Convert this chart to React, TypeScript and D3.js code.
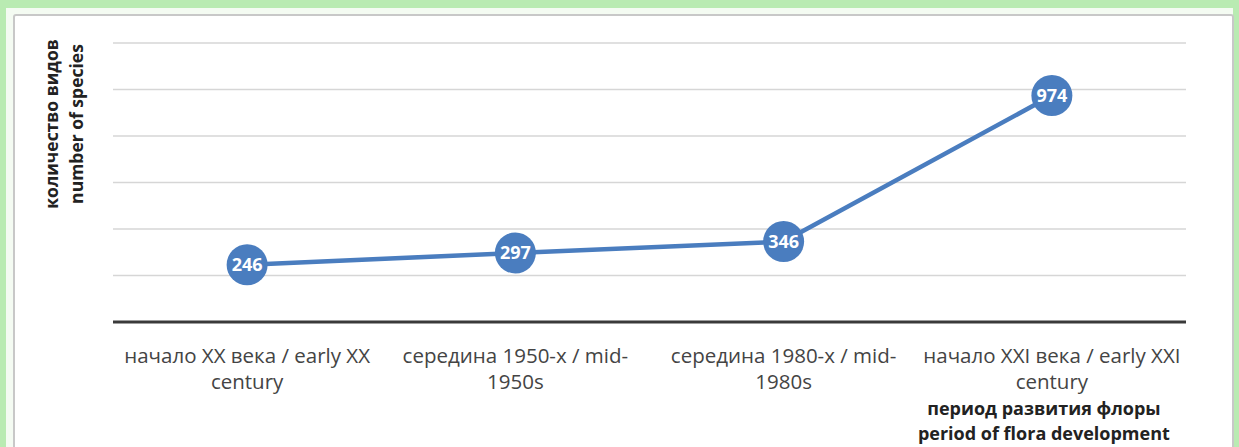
import { useEffect, useRef } from "react";
import * as d3 from "d3";

const W = 1239;
const H = 447;
const MARGIN = { top: 43, right: 53, bottom: 125, left: 113 };
const INNER_W = W - MARGIN.left - MARGIN.right;
const INNER_H = H - MARGIN.top - MARGIN.bottom;

const FONT = '"Open Sans", "Noto Sans", sans-serif';
const BLUE = "#4a7dbf";

const CATEGORIES = ["c1", "c2", "c3", "c4"];
const CATEGORY_LABELS = [
  ["начало XX века / early XX", "century"],
  ["середина 1950-х / mid-", "1950s"],
  ["середина 1980-х / mid-", "1980s"],
  ["начало XXI века / early XXI", "century"],
];
const SPECIES = [246, 297, 346, 974];
const Y_TICKS = [0, 200, 400, 600, 800, 1000, 1200];
const Y_TITLE = ["количество видов", "number of species"];
const X_TITLE = ["период развития флоры", "period of flora development"];

export default function App() {
  const svgRef = useRef<SVGSVGElement>(null);

  useEffect(() => {
    const svg = d3.select(svgRef.current);
    svg.selectAll("*").remove();

    // frame
    svg.append("rect").attr("width", W).attr("height", H).attr("fill", "#b9ebb2");
    svg
      .append("rect")
      .attr("x", 6)
      .attr("y", 8)
      .attr("width", W - 12)
      .attr("height", H)
      .attr("fill", "#f4fbf2");
    svg
      .append("rect")
      .attr("x", 14)
      .attr("y", 15)
      .attr("width", 1219)
      .attr("height", H)
      .attr("rx", 2)
      .attr("fill", "#ffffff")
      .attr("stroke", "#c8c8c8")
      .attr("stroke-width", 2);

    const chart = svg
      .append("g")
      .attr("transform", `translate(${MARGIN.left},${MARGIN.top})`);

    const x = d3.scaleBand().domain(CATEGORIES).range([0, INNER_W]);
    const y = d3.scaleLinear().domain([0, 1200]).range([INNER_H, 0]);

    // gridlines
    chart
      .append("g")
      .selectAll("line")
      .data(Y_TICKS.filter((t) => t > 0))
      .join("line")
      .attr("x1", 0)
      .attr("x2", INNER_W)
      .attr("y1", (t) => y(t))
      .attr("y2", (t) => y(t))
      .attr("stroke", "#d6d6d6")
      .attr("stroke-width", 1.5);

    // axis line
    chart
      .append("line")
      .attr("x1", 0)
      .attr("x2", INNER_W)
      .attr("y1", y(0))
      .attr("y2", y(0))
      .attr("stroke", "#3a3a3a")
      .attr("stroke-width", 3);

    // category labels
    const cx = (i: number) => (x(CATEGORIES[i]) ?? 0) + x.bandwidth() / 2;
    CATEGORY_LABELS.forEach((lines, i) => {
      lines.forEach((txt, j) => {
        chart
          .append("text")
          .attr("x", cx(i))
          .attr("y", y(0) + 41 + j * 26)
          .attr("text-anchor", "middle")
          .attr("fill", "#444")
          .attr("font-size", 20.5)
          .attr("font-family", FONT)
          .text(txt);
      });
    });

    // x title
    X_TITLE.forEach((txt, j) => {
      chart
        .append("text")
        .attr("x", cx(3) - 8)
        .attr("y", y(0) + 93 + j * 25)
        .attr("text-anchor", "middle")
        .attr("fill", "#222")
        .attr("font-size", 18)
        .attr("font-weight", 700)
        .attr("font-family", FONT)
        .text(txt);
    });

    // y title
    Y_TITLE.forEach((txt, j) => {
      svg
        .append("text")
        .attr("transform", `translate(${58 + j * 25},124) rotate(-90)`)
        .attr("text-anchor", "middle")
        .attr("fill", "#222")
        .attr("font-size", 17.5)
        .attr("font-weight", 700)
        .attr("font-family", FONT)
        .text(txt);
    });

    // line
    const line = d3
      .line<number>()
      .x((_, i) => cx(i))
      .y((d) => y(d));

    chart
      .append("path")
      .datum(SPECIES)
      .attr("d", line)
      .attr("fill", "none")
      .attr("stroke", BLUE)
      .attr("stroke-width", 4.5);

    const dots = chart
      .selectAll(".dot")
      .data(SPECIES)
      .join("g")
      .attr("transform", (d, i) => `translate(${cx(i)},${y(d)})`);

    dots.append("circle").attr("r", 20.5).attr("fill", BLUE);
    dots
      .append("text")
      .attr("text-anchor", "middle")
      .attr("dy", "0.36em")
      .attr("fill", "#fff")
      .attr("font-size", 18)
      .attr("font-weight", 700)
      .attr("font-family", FONT)
      .text((d) => d);
  }, []);

  return (
    <div style={{ position: "fixed", left: 0, top: 0 }}>
      <svg ref={svgRef} width={W} height={H} style={{ display: "block" }} />
    </div>
  );
}
